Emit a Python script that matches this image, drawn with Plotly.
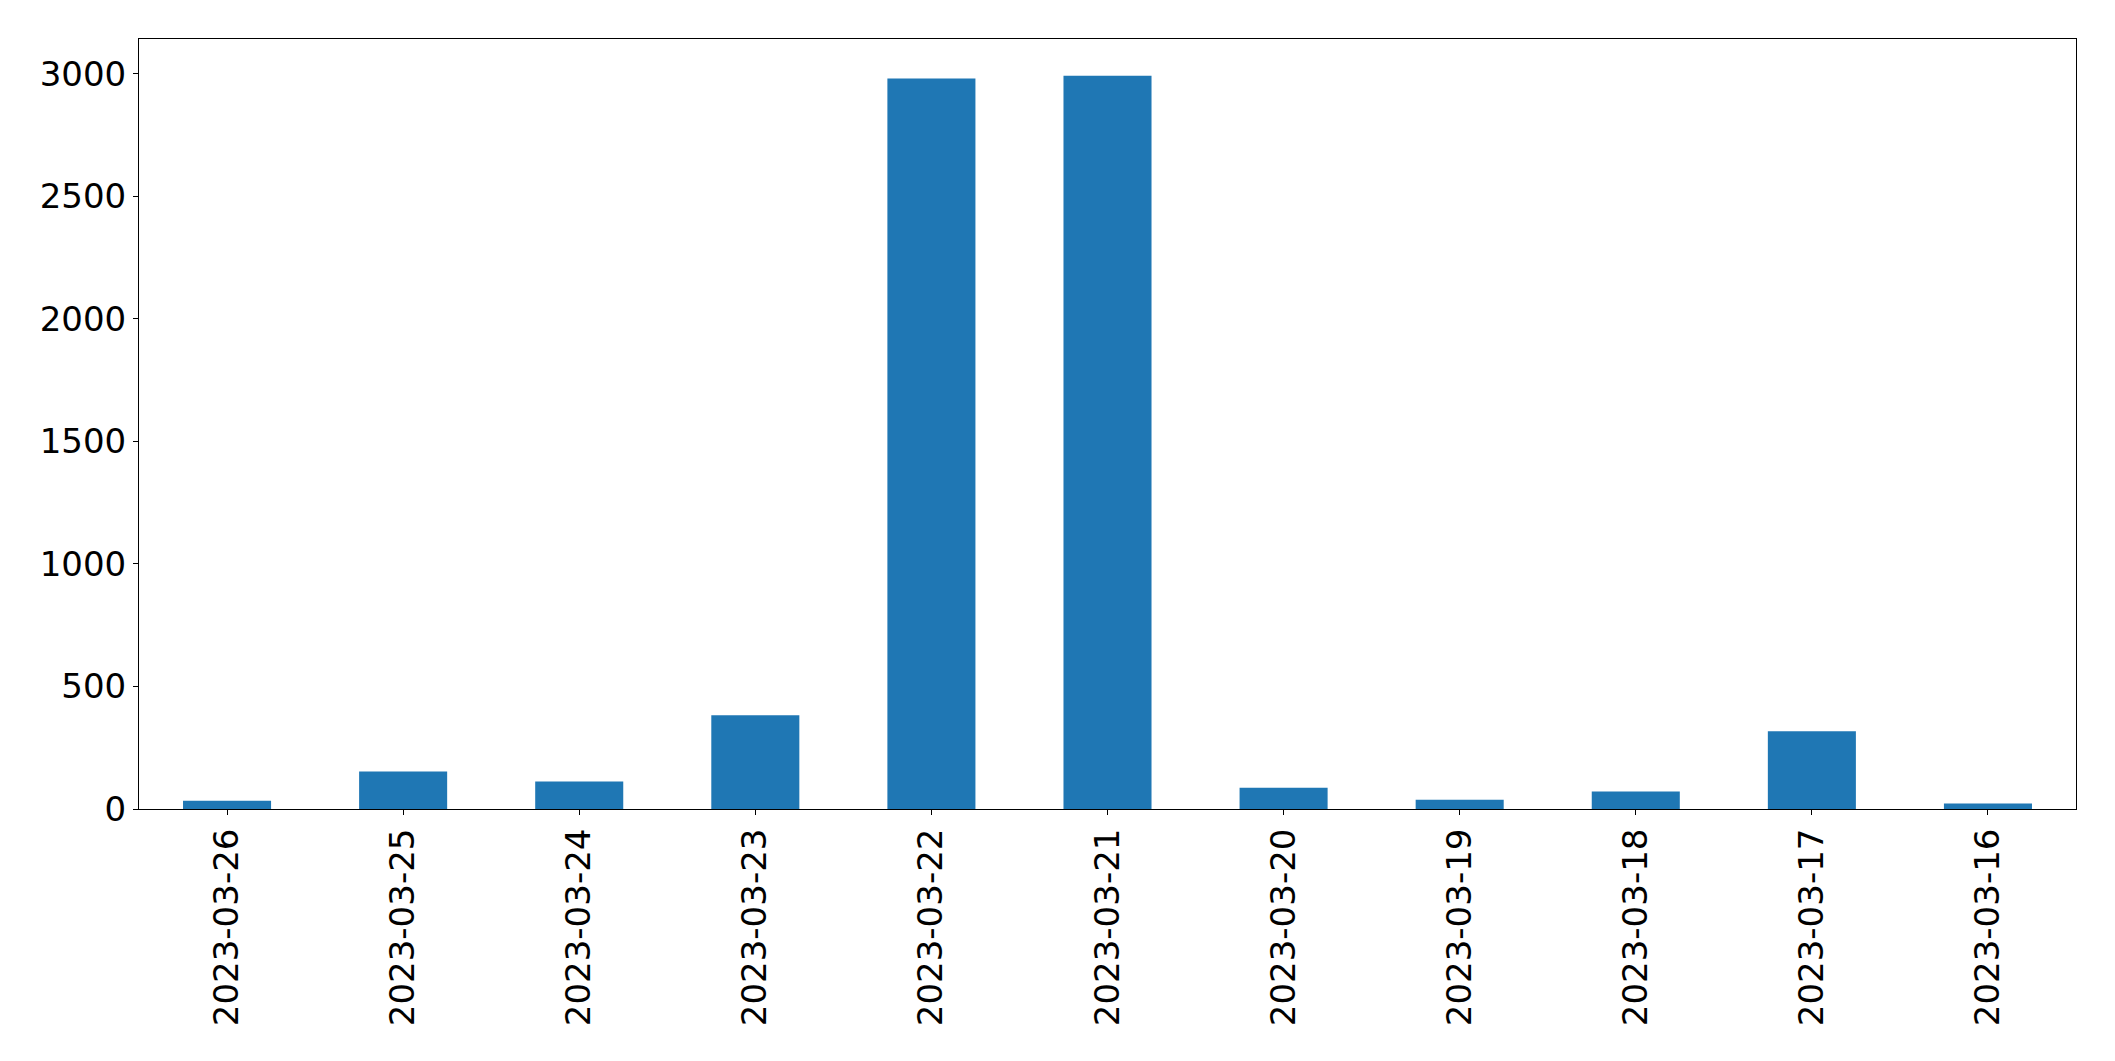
import plotly.graph_objects as go

dates = ["2023-03-26", "2023-03-25", "2023-03-24", "2023-03-23", "2023-03-22", "2023-03-21",
         "2023-03-20", "2023-03-19", "2023-03-18", "2023-03-17", "2023-03-16"]
counts = [34, 153, 112, 382, 2980, 2992, 87, 38, 71, 317, 22]
y_ticks = [0, 500, 1000, 1500, 2000, 2500, 3000]

fig = go.Figure(go.Bar(x=list(range(len(dates))), y=counts, width=0.5,
                       marker=dict(color="#1f77b4", line=dict(width=0))))

font = dict(family="DejaVu Sans", size=34, color="black")
fig.update_layout(
    width=2115, height=1061, autosize=False,
    margin=dict(l=131, r=47, t=31, b=260),
    paper_bgcolor="white", plot_bgcolor="white",
    font=font, showlegend=False,
)
fig.update_xaxes(
    range=[-0.5, len(dates) - 0.5], tickmode="array",
    tickvals=list(range(len(dates))), ticktext=dates, tickangle=-90,
    showline=True, linecolor="black", linewidth=1, mirror=True,
    ticks="outside", ticklen=5, tickwidth=1, tickcolor="black",
    showgrid=False, zeroline=False, tickfont=font,
)
fig.update_yaxes(
    range=[0, max(counts) * 1.05], tickmode="array", tickvals=y_ticks,
    ticktext=[str(v) for v in y_ticks],
    showline=True, linecolor="black", linewidth=1, mirror=True,
    ticks="outside", ticklen=5, tickwidth=1, tickcolor="black",
    showgrid=False, zeroline=False, tickfont=font,
)
fig.write_html("out.html")
